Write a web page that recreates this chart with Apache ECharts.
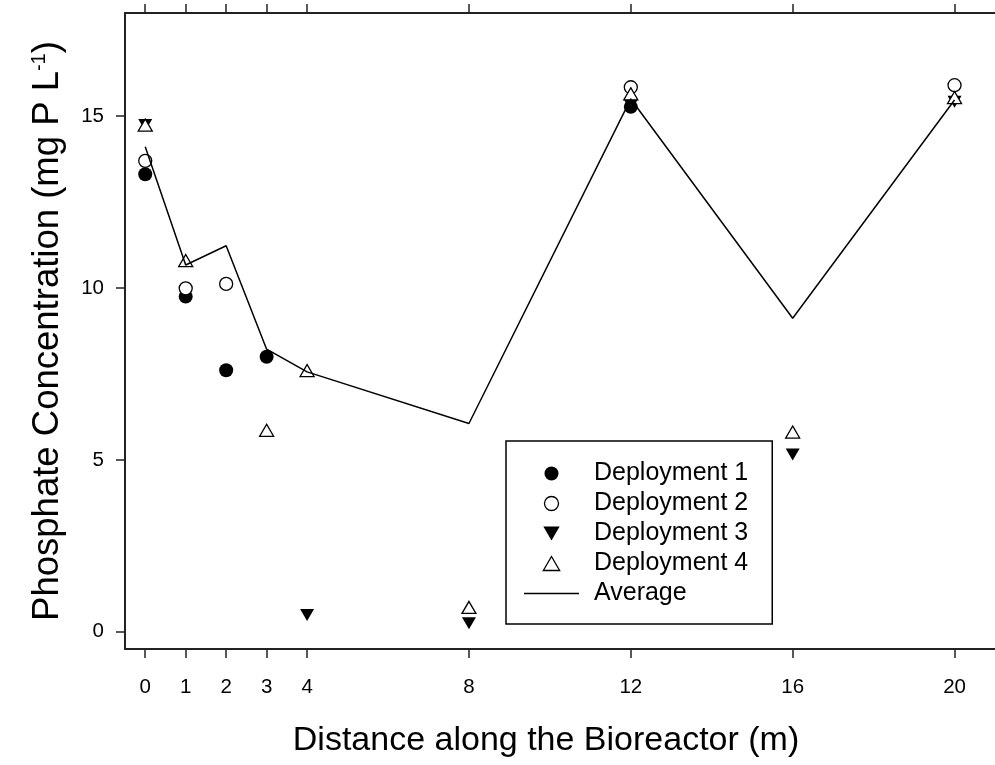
<!DOCTYPE html>
<html>
<head>
<meta charset="utf-8">
<title>Phosphate Concentration along the Bioreactor</title>
<script src="https://cdn.jsdelivr.net/npm/echarts@6/dist/echarts.min.js"></script>
<style>
  html, body { margin: 0; padding: 0; background: #fff; }
  #chart { width: 995px; height: 765px; }
</style>
</head>
<body>
<div id="chart"></div>
<script>
// Tick positions (m) and concentration ticks (mg P/L)
const distanceTicks = [0, 1, 2, 3, 4, 8, 12, 16, 20];
const concentrationTicks = [0, 5, 10, 15];

// Deployment 1
const dep1Distance = [0, 1, 2, 3, 12];
const dep1Values   = [13.31, 9.75, 7.61, 8.0, 15.27];

// Deployment 2
const dep2Distance = [0, 1, 2, 12, 20];
const dep2Values   = [13.7, 9.99, 10.12, 15.84, 15.9];

// Deployment 3
const dep3Distance = [0, 4, 8, 12, 16, 20];
const dep3Values   = [14.74, 0.49, 0.25, 15.31, 5.16, 15.42];

// Deployment 4
const dep4Distance = [0, 1, 3, 4, 8, 12, 16, 20];
const dep4Values   = [14.74, 10.8, 5.86, 7.6, 0.71, 15.65, 5.81, 15.54];

// Average across deployments
const avgDistance = [0, 1, 2, 3, 4, 8, 12, 16, 20];
const avgValues   = [14.11, 10.67, 11.23, 8.22, 7.56, 6.06, 15.5, 9.12, 15.47];

const pairs = (xs, ys) => xs.map((x, i) => [x, ys[i]]);

const FONT = '"Liberation Sans", Arial, Helvetica, sans-serif';
const INK = '#000';
const DOWN_TRIANGLE = 'path://M0,0 L14,0 L7,12 Z';
const UP_TRIANGLE = 'path://M7,0 L14,12 L0,12 Z';
const LEGEND_LINE = 'path://M0,0 L55,0 L55,1.4 L0,1.4 Z';

const filledStyle = { color: INK, borderColor: INK, borderWidth: 0, opacity: 1 };
const openStyle = { color: '#fff', borderColor: INK, borderWidth: 1.3, opacity: 1 };

const chart = echarts.init(document.getElementById('chart'), null, { renderer: 'canvas' });

const xAxisBase = {
  type: 'value',
  min: -0.5,
  max: 21,
  splitLine: { show: false },
  axisLine: { show: true, onZero: false, lineStyle: { color: '#222', width: 2 } },
  axisTick: {
    show: true,
    inside: false,
    length: 9,
    customValues: distanceTicks,
    lineStyle: { color: '#222', width: 1.5 }
  }
};

chart.setOption({
  animation: false,
  backgroundColor: '#fff',
  grid: { left: 125, right: -10, top: 13, bottom: 116, containLabel: false },
  xAxis: [
    Object.assign({}, xAxisBase, {
      position: 'bottom',
      axisLabel: {
        show: true,
        customValues: distanceTicks,
        margin: 28,
        fontFamily: FONT,
        fontSize: 20.5,
        color: INK
      }
    }),
    Object.assign({}, xAxisBase, {
      position: 'top',
      axisLabel: { show: false }
    })
  ],
  yAxis: {
    type: 'value',
    min: -0.5,
    max: 18,
    splitLine: { show: false },
    axisLine: { show: true, onZero: false, lineStyle: { color: '#222', width: 2 } },
    axisTick: {
      show: true,
      inside: false,
      length: 9,
      customValues: concentrationTicks,
      lineStyle: { color: '#222', width: 1.5 }
    },
    axisLabel: {
      customValues: concentrationTicks,
      margin: 21,
      fontFamily: FONT,
      fontSize: 20.5,
      color: INK
    },
    name: '{t|Phosphate Concentration (mg P L}{s|-1}{t|)}',
    nameLocation: 'middle',
    nameRotate: 90,
    nameGap: 59,
    nameTextStyle: {
      fontFamily: FONT,
      fontSize: 36.5,
      color: INK,
      rich: {
        t: { fontFamily: FONT, fontSize: 36.5, color: INK },
        s: { fontFamily: FONT, fontSize: 20, color: INK, verticalAlign: 'top' }
      }
    }
  },
  legend: {
    orient: 'vertical',
    left: 506,
    top: 441,
    padding: [20, 24, 18, 18],
    itemWidth: 55,
    itemHeight: 14,
    itemGap: 5,
    borderColor: INK,
    borderWidth: 1.5,
    borderRadius: 0,
    backgroundColor: '#fff',
    selectedMode: false,
    textStyle: {
      fontFamily: FONT,
      fontSize: 25,
      color: INK,
      padding: [0, 0, 0, 10]
    },
    data: [
      { name: 'Deployment 1', icon: 'circle', itemStyle: filledStyle },
      { name: 'Deployment 2', icon: 'circle', itemStyle: openStyle },
      { name: 'Deployment 3', icon: DOWN_TRIANGLE, itemStyle: filledStyle },
      { name: 'Deployment 4', icon: UP_TRIANGLE, itemStyle: openStyle },
      { name: 'Average', icon: LEGEND_LINE, itemStyle: filledStyle }
    ]
  },
  series: [
    {
      name: 'Deployment 1',
      type: 'scatter',
      symbol: 'circle',
      symbolSize: 14,
      itemStyle: filledStyle,
      z: 2,
      data: pairs(dep1Distance, dep1Values)
    },
    {
      name: 'Deployment 2',
      type: 'scatter',
      symbol: 'circle',
      symbolSize: 13,
      itemStyle: openStyle,
      z: 3,
      data: pairs(dep2Distance, dep2Values)
    },
    {
      name: 'Deployment 3',
      type: 'scatter',
      symbol: DOWN_TRIANGLE,
      symbolSize: [14, 12],
      itemStyle: filledStyle,
      z: 4,
      data: pairs(dep3Distance, dep3Values)
    },
    {
      name: 'Deployment 4',
      type: 'scatter',
      symbol: UP_TRIANGLE,
      symbolSize: [14, 12],
      itemStyle: openStyle,
      z: 5,
      data: pairs(dep4Distance, dep4Values)
    },
    {
      name: 'Average',
      type: 'line',
      symbol: 'none',
      showSymbol: false,
      lineStyle: { color: INK, width: 1.5 },
      itemStyle: { color: INK },
      z: 6,
      data: pairs(avgDistance, avgValues)
    }
  ],
  graphic: [
    {
      type: 'text',
      x: 546,
      y: 741,
      silent: true,
      style: {
        text: 'Distance along the Bioreactor (m)',
        font: '34px ' + FONT,
        fill: INK,
        align: 'center',
        verticalAlign: 'middle',
        textAlign: 'center',
        textVerticalAlign: 'middle'
      }
    }
  ]
});
</script>
</body>
</html>
